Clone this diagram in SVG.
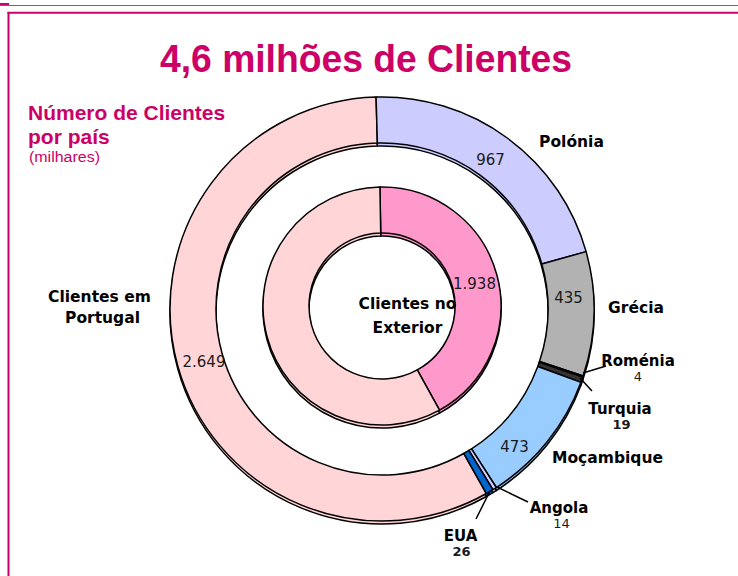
<svg xmlns="http://www.w3.org/2000/svg" xmlns:xlink="http://www.w3.org/1999/xlink" width="738" height="576" viewBox="0 0 738 576">
<style>
.seg{stroke:#000;stroke-width:1.5;stroke-linejoin:round}
.lbl{font-family:"DejaVu Sans",Verdana,sans-serif;font-weight:bold;font-size:15.5px;fill:#000;text-anchor:middle}
.lbs{font-family:"DejaVu Sans",Verdana,sans-serif;font-weight:bold;font-size:15px;fill:#000;text-anchor:middle}
.num{font-family:"DejaVu Sans",Verdana,sans-serif;font-size:15px;fill:#1a1a1a;text-anchor:middle}
.nsm{font-family:"DejaVu Sans",Verdana,sans-serif;font-size:13px;fill:#1a1a1a;text-anchor:middle}
.sub{font-family:"DejaVu Sans",Verdana,sans-serif;font-weight:bold;font-size:13px;fill:#1a1a1a;text-anchor:middle}
.mag{fill:#CC0066;font-family:"Liberation Sans",Arial,sans-serif}
.lead{stroke:#000;stroke-width:1.5;fill:none}
</style>
<rect width="738" height="576" fill="#fff"/>
<!-- frame -->
<line x1="0" y1="5.5" x2="738" y2="5.5" stroke="#D0337F" stroke-width="1"/>
<line x1="0" y1="4" x2="9" y2="4" stroke="#CC0066" stroke-width="2"/>
<line x1="8.5" y1="12" x2="8.5" y2="576" stroke="#CC0066" stroke-width="2"/>
<line x1="7.5" y1="12.8" x2="738" y2="12.8" stroke="#CC0066" stroke-width="2"/>
<!-- titles -->
<text class="mag" x="366" y="72" font-size="38" font-weight="bold" text-anchor="middle" textLength="412" lengthAdjust="spacingAndGlyphs">4,6 milhões de Clientes</text>
<text class="mag" x="28" y="120" font-size="21" font-weight="bold">Número de Clientes</text>
<text class="mag" x="28" y="144" font-size="21" font-weight="bold">por país</text>
<text class="mag" x="29" y="162" font-size="14" textLength="71" lengthAdjust="spacingAndGlyphs">(milhares)</text>

<!-- 3D depth copies -->
<use xlink:href="#outerRing" href="#outerRing" transform="translate(0,3)"/>
<g id="outerRing">
  <g id="seg-portugal"><path class="seg" fill="#FFD5D7" d="M486.39 493.52 A212 212 0 1 1 376.08 97.08 L377.37 143.06 A166 166 0 1 0 463.74 453.48 Z"/></g>
  <g id="seg-polonia"><path class="seg" fill="#CCCCFF" d="M376.08 97.08 A212 212 0 0 1 586.09 251.61 L541.80 264.06 A166 166 0 0 0 377.37 143.06 Z"/></g>
  <g id="seg-grecia"><path class="seg" fill="#B2B2B2" d="M586.09 251.61 A212 212 0 0 1 583.12 376.04 L539.48 361.49 A166 166 0 0 0 541.80 264.06 Z"/></g>
  <g id="seg-romenia"><path class="seg" fill="#4D4D4D" d="M583.12 376.04 A212 212 0 0 1 582.75 377.14 L539.19 362.35 A166 166 0 0 0 539.48 361.49 Z"/></g>
  <g id="seg-turquia"><path class="seg" fill="#333333" d="M582.75 377.14 A212 212 0 0 1 580.92 382.34 L537.76 366.43 A166 166 0 0 0 539.19 362.35 Z"/></g>
  <g id="seg-mocambique"><path class="seg" fill="#99CCFF" d="M580.92 382.34 A212 212 0 0 1 496.34 487.52 L471.53 448.79 A166 166 0 0 0 537.76 366.43 Z"/></g>
  <g id="seg-angola"><path class="seg" fill="#CCCCFF" d="M496.34 487.52 A212 212 0 0 1 492.90 489.68 L468.84 450.48 A166 166 0 0 0 471.53 448.79 Z"/></g>
  <g id="seg-eua"><path class="seg" fill="#0066CC" d="M492.90 489.68 A212 212 0 0 1 486.39 493.52 L463.74 453.48 A166 166 0 0 0 468.84 450.48 Z"/></g>
</g>

<use xlink:href="#innerRing" href="#innerRing" transform="translate(0,3)"/>
<g id="innerRing">
  <g id="seg-exterior"><path class="seg" fill="#FF99CC" d="M379.92 187.02 A119 119 0 0 1 439.51 410.18 L417.28 369.91 A73 73 0 0 0 380.73 233.01 Z"/></g>
  <g id="seg-portugal-inner"><path class="seg" fill="#FFD5D7" d="M439.51 410.18 A119 119 0 1 1 379.92 187.02 L380.73 233.01 A73 73 0 1 0 417.28 369.91 Z"/></g>
</g>

<!-- connectors -->
<g id="connectors">
  <line class="lead" x1="583" y1="373" x2="606" y2="366"/>
  <line class="lead" x1="580" y1="378" x2="592" y2="391"/>
  <line class="lead" x1="497" y1="487" x2="528" y2="502"/>
  <line class="lead" x1="490" y1="491" x2="476" y2="519"/>
</g>

<!-- labels -->
<g id="labels">
  <text class="lbl" x="99.5" y="302">Clientes em</text>
  <text class="lbl" x="102.5" y="323">Portugal</text>
  <text class="num" x="204" y="367">2.649</text>
  <text class="lbl" x="571.5" y="147">Polónia</text>
  <text class="num" x="490.5" y="165">967</text>
  <text class="lbl" x="407.5" y="309">Clientes no</text>
  <text class="lbl" x="407.5" y="333">Exterior</text>
  <text class="num" x="474.5" y="289">1.938</text>
  <text class="num" x="568.5" y="303">435</text>
  <text class="lbl" x="636" y="313">Grécia</text>
  <text class="lbs" x="638" y="366">Roménia</text>
  <text class="nsm" x="638" y="381">4</text>
  <text class="lbs" x="620" y="414">Turquia</text>
  <text class="sub" x="621.5" y="429">19</text>
  <text class="lbl" x="607.5" y="463">Moçambique</text>
  <text class="num" x="514.5" y="452">473</text>
  <text class="lbs" x="559" y="513">Angola</text>
  <text class="nsm" x="561.5" y="528">14</text>
  <text class="lbs" x="460.5" y="541">EUA</text>
  <text class="sub" x="461.5" y="556">26</text>
</g>
</svg>
